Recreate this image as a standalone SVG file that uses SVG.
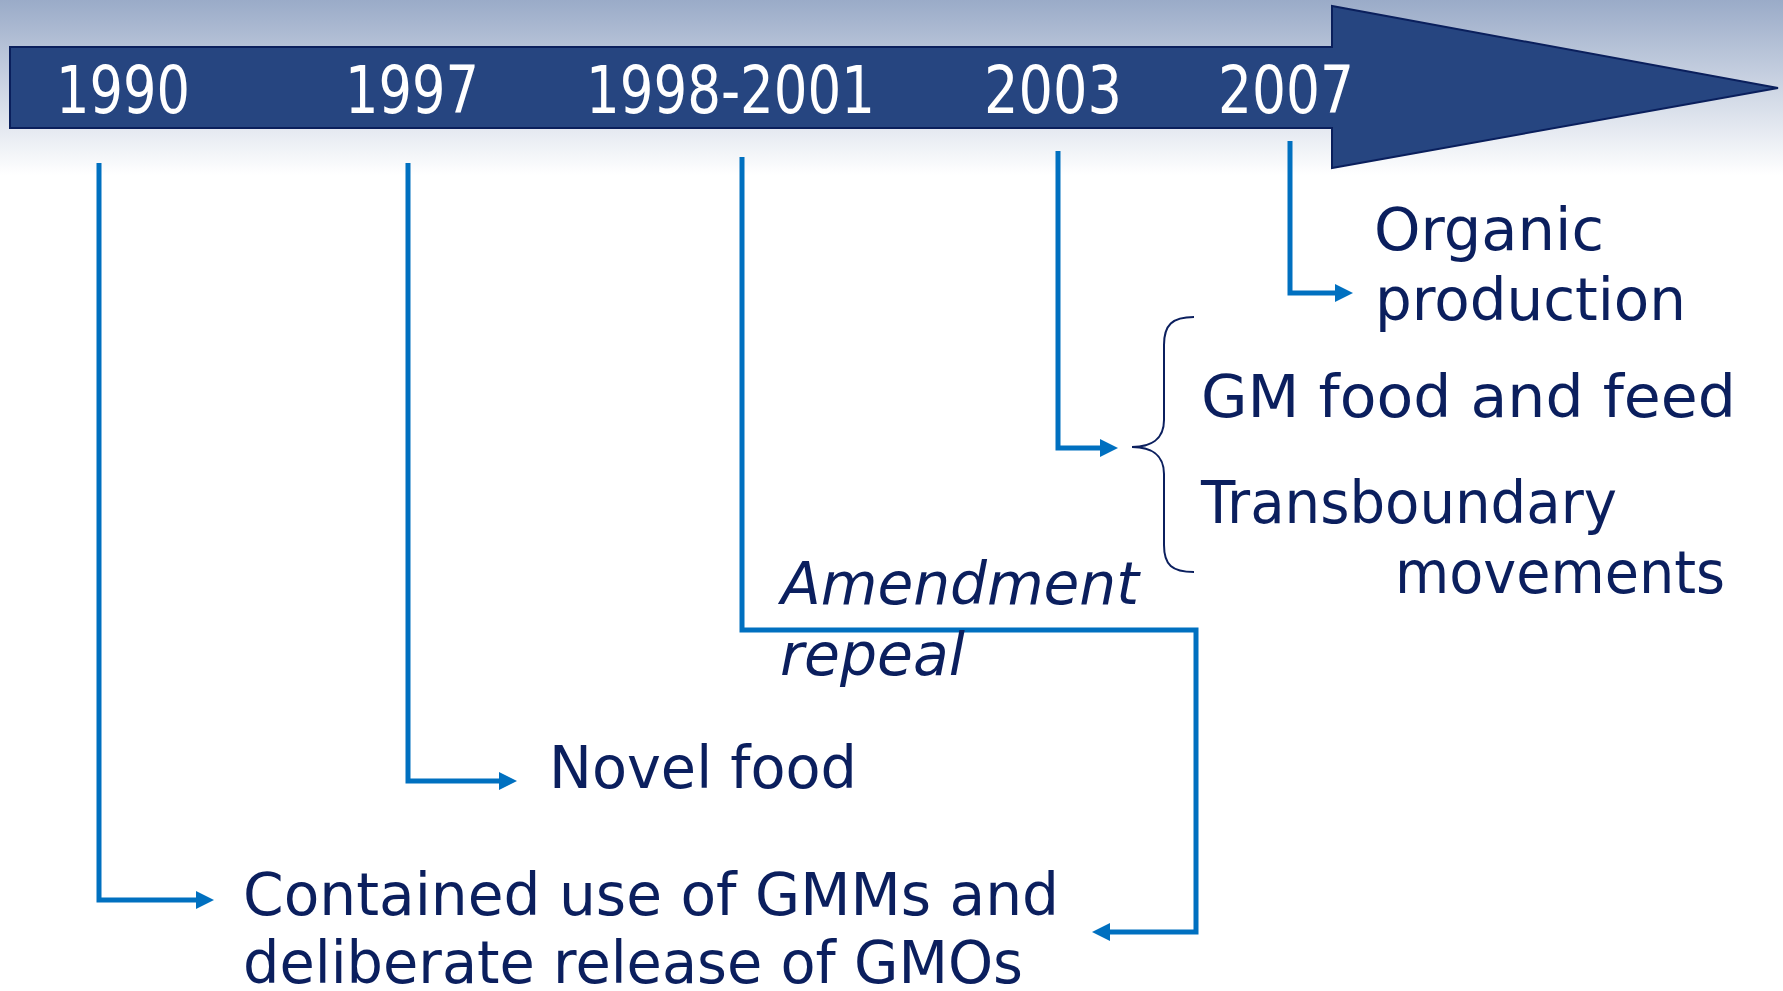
<svg xmlns="http://www.w3.org/2000/svg" width="1783" height="991" viewBox="0 0 1783 991">
<defs>
<linearGradient id="bg" x1="0" y1="0" x2="0" y2="175" gradientUnits="userSpaceOnUse">
<stop offset="0" stop-color="#9aabc8"/>
<stop offset="1" stop-color="#ffffff"/>
</linearGradient>
<marker id="ah" viewBox="0 0 10 10" refX="0" refY="5" markerWidth="18" markerHeight="18" markerUnits="userSpaceOnUse" orient="auto">
<path d="M0,0 L10,5 L0,10 z" fill="#0070c0"/>
</marker>
<style>
.yr{font-family:"DejaVu Sans","Liberation Sans",sans-serif;font-size:66px;fill:#ffffff}
.t{font-family:"DejaVu Sans","Liberation Sans",sans-serif;font-size:58px;fill:#0b1f5e}
.it{font-style:italic}
.c{fill:none;stroke:#0070c0;stroke-width:5;stroke-linejoin:miter;marker-end:url(#ah)}
</style>
</defs>
<rect x="0" y="0" width="1783" height="991" fill="#ffffff"/>
<rect x="0" y="0" width="1783" height="180" fill="url(#bg)"/>
<g id="timeline">
<path d="M10,47 H1332 V6 L1778,88 L1332,168 V128 H10 Z" fill="#264580" stroke="#0a1f5c" stroke-width="2"/>
</g>
<g id="connectors">
<path class="c" d="M99,163 V900 H196"/>
<path class="c" d="M408,163 V781 H499"/>
<path class="c" d="M742,157 V630 H1196 V932 H1110"/>
<path class="c" d="M1058,151 V448 H1100"/>
<path class="c" d="M1290,141 V293 H1335"/>
<path d="M1194,317 C1172,317 1164,325 1164,345 V420 C1164,440 1150,447 1132,447 C1150,447 1164,454 1164,474 V545 C1164,565 1172,572 1194,572" fill="none" stroke="#0b1f5e" stroke-width="2"/>
</g>
<g id="y1990"><text class="yr" x="56" y="113" textLength="134" lengthAdjust="spacingAndGlyphs">1990</text></g>
<g id="y1997"><text class="yr" x="345" y="113" textLength="134" lengthAdjust="spacingAndGlyphs">1997</text></g>
<g id="y1998"><text class="yr" x="586" y="113" textLength="289" lengthAdjust="spacingAndGlyphs">1998-2001</text></g>
<g id="y2003"><text class="yr" x="984" y="113" textLength="138" lengthAdjust="spacingAndGlyphs">2003</text></g>
<g id="y2007"><text class="yr" x="1218" y="113" textLength="136" lengthAdjust="spacingAndGlyphs">2007</text></g>
<g id="organic">
<text class="t" x="1374" y="250" textLength="230" lengthAdjust="spacingAndGlyphs">Organic</text>
<text class="t" x="1375" y="320" textLength="311" lengthAdjust="spacingAndGlyphs">production</text>
</g>
<g id="gm">
<text class="t" x="1201" y="417" textLength="535" lengthAdjust="spacingAndGlyphs">GM food and feed</text>
<text class="t" x="1201" y="523" textLength="416" lengthAdjust="spacingAndGlyphs">Transboundary</text>
<text class="t" x="1395" y="593" textLength="330" lengthAdjust="spacingAndGlyphs">movements</text>
</g>
<g id="amend">
<text class="t it" x="781" y="604" textLength="358" lengthAdjust="spacingAndGlyphs">Amendment</text>
<text class="t it" x="780" y="675" textLength="185" lengthAdjust="spacingAndGlyphs">repeal</text>
</g>
<g id="novel">
<text class="t" x="549" y="788" textLength="308" lengthAdjust="spacingAndGlyphs">Novel food</text>
</g>
<g id="contained">
<text class="t" x="243" y="915" textLength="816" lengthAdjust="spacingAndGlyphs">Contained use of GMMs and</text>
<text class="t" x="243" y="983" textLength="780" lengthAdjust="spacingAndGlyphs">deliberate release of GMOs</text>
</g>
</svg>
